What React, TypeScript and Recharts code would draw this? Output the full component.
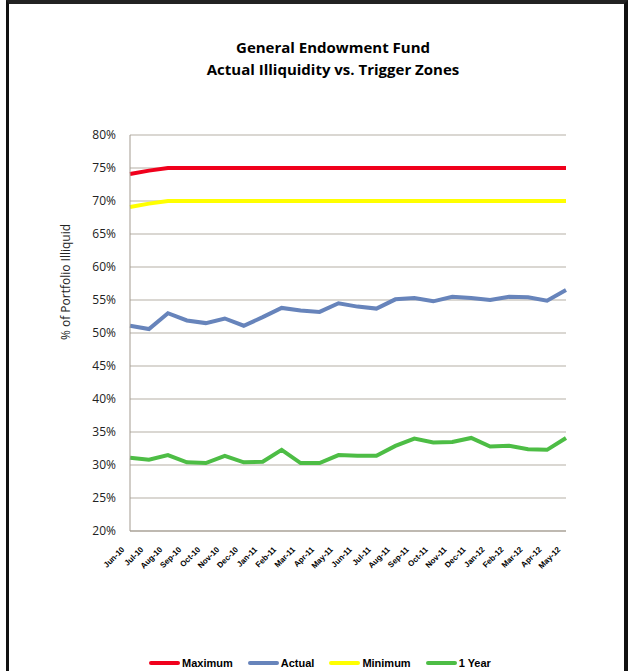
import { LineChart, Line, XAxis, YAxis, CartesianGrid } from 'recharts'

const months = [
  'Jun-10', 'Jul-10', 'Aug-10', 'Sep-10', 'Oct-10', 'Nov-10', 'Dec-10', 'Jan-11',
  'Feb-11', 'Mar-11', 'Apr-11', 'May-11', 'Jun-11', 'Jul-11', 'Aug-11', 'Sep-11',
  'Oct-11', 'Nov-11', 'Dec-11', 'Jan-12', 'Feb-12', 'Mar-12', 'Apr-12', 'May-12',
]
const maximum = [74.1, 74.6, 75, 75, 75, 75, 75, 75, 75, 75, 75, 75, 75, 75, 75, 75, 75, 75, 75, 75, 75, 75, 75, 75]
const actual = [51.1, 50.6, 53.0, 51.9, 51.5, 52.2, 51.1, 52.4, 53.8, 53.4, 53.2, 54.5, 54.0, 53.7, 55.1, 55.3, 54.8, 55.5, 55.3, 55.0, 55.5, 55.4, 54.9, 56.5]
const minimum = [69.1, 69.6, 70, 70, 70, 70, 70, 70, 70, 70, 70, 70, 70, 70, 70, 70, 70, 70, 70, 70, 70, 70, 70, 70]
const oneYear = [31.1, 30.8, 31.5, 30.4, 30.3, 31.4, 30.4, 30.5, 32.3, 30.3, 30.3, 31.5, 31.4, 31.4, 32.9, 34.0, 33.4, 33.5, 34.1, 32.8, 32.9, 32.4, 32.3, 34.1]
const yTicks = [20, 25, 30, 35, 40, 45, 50, 55, 60, 65, 70, 75, 80]

const series = [
  { key: 'maximum', name: 'Maximum', color: '#f0001c' },
  { key: 'actual', name: 'Actual', color: '#6784bb' },
  { key: 'minimum', name: 'Minimum', color: '#ffff00' },
  { key: 'oneYear', name: '1 Year', color: '#4dbd45' },
]

const data = months.map((m, i) => ({
  month: m,
  maximum: maximum[i],
  actual: actual[i],
  minimum: minimum[i],
  oneYear: oneYear[i],
}))

const AXIS = '#a39b90'

function MonthTick({ x, y, payload }: any) {
  return (
    <text
      x={x - 5}
      y={y + 11}
      transform={`rotate(-45, ${x - 5}, ${y + 11})`}
      textAnchor="end"
      fontFamily="'Liberation Sans', Arial, sans-serif"
      fontWeight="bold"
      fontSize={8}
      fill="#000"
    >
      {payload.value}
    </text>
  )
}

export default function App() {
  return (
    <div style={{ position: 'fixed', left: 0, top: 0, width: 628, height: 671, background: '#fff', overflow: 'hidden' }}>
      <div style={{
        position: 'absolute', left: 6, top: 0, width: 615, height: 700,
        borderLeft: '3px solid #111', borderTop: '4px solid #222', borderRight: '4px solid #111',
      }} />
      <div style={{
        position: 'absolute', left: 133, width: 400, top: 36, textAlign: 'center',
        fontFamily: "'Open Sans', sans-serif", fontWeight: 'bold', fontSize: 15, lineHeight: '22px', color: '#000',
      }}>
        <div>General Endowment Fund</div>
        <div>Actual Illiquidity vs. Trigger Zones</div>
      </div>
      <div style={{
        position: 'absolute', left: 65, top: 282, transform: 'translate(-50%, -50%) rotate(-90deg)',
        whiteSpace: 'nowrap', fontFamily: "'Open Sans', sans-serif", fontSize: 12, color: '#222',
      }}>
        % of Portfolio Illiquid
      </div>
      <LineChart width={628} height={671} data={data} margin={{ top: 135, right: 62, left: 0, bottom: 80 }}
        style={{ position: 'absolute', left: 0, top: 0 }}>
        <CartesianGrid vertical={false} stroke="#b5afa5" strokeWidth={1} />
        <XAxis dataKey="month" interval={0} height={60} tickLine={false} axisLine={{ stroke: AXIS }}
          tick={<MonthTick />} />
        <YAxis width={130} domain={[20, 80]} ticks={yTicks} tickFormatter={(v) => `${v}%`}
          tickLine={false} axisLine={{ stroke: AXIS }} tickMargin={8}
          tick={{ fontFamily: "'Open Sans', sans-serif", fontSize: 12, fill: '#222' }} />
        {series.map((s) => (
          <Line key={s.key} type="linear" dataKey={s.key} name={s.name} stroke={s.color} strokeWidth={4}
            dot={false} isAnimationActive={false} />
        ))}
      </LineChart>
      <div style={{
        position: 'absolute', left: 149, top: 657, display: 'flex', alignItems: 'center',
        fontFamily: "'Liberation Sans', Arial, sans-serif", fontWeight: 'bold', fontSize: 11, color: '#000',
      }}>
        {series.map((s) => (
          <div key={s.key} style={{ display: 'flex', alignItems: 'center', marginRight: 15 }}>
            <span style={{ display: 'inline-block', width: 31, height: 4, borderRadius: 2, background: s.color, marginRight: 2 }} />
            <span>{s.name}</span>
          </div>
        ))}
      </div>
    </div>
  )
}
